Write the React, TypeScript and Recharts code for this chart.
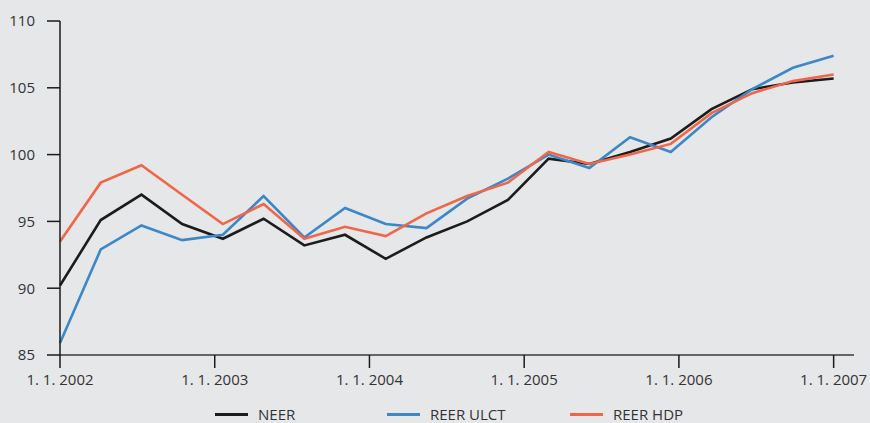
import React from 'react';
import { LineChart, Line, XAxis, YAxis, Legend } from 'recharts';

// 20 quarterly observations spread over 1.1.2002 – 1.1.2007
const quarters = [
  'Q1 02', 'Q2 02', 'Q3 02', 'Q4 02',
  'Q1 03', 'Q2 03', 'Q3 03', 'Q4 03',
  'Q1 04', 'Q2 04', 'Q3 04', 'Q4 04',
  'Q1 05', 'Q2 05', 'Q3 05', 'Q4 05',
  'Q1 06', 'Q2 06', 'Q3 06', 'Q4 06',
];

const neer = [
  90.2, 95.1, 97.0, 94.8, 93.7, 95.2, 93.2, 94.0, 92.2, 93.8,
  95.0, 96.6, 99.7, 99.3, 100.2, 101.2, 103.4, 104.9, 105.4, 105.7,
];

const reerUlct = [
  85.9, 92.9, 94.7, 93.6, 94.0, 96.9, 93.8, 96.0, 94.8, 94.5,
  96.7, 98.2, 100.0, 99.0, 101.3, 100.2, 102.8, 104.9, 106.5, 107.4,
];

const reerHdp = [
  93.5, 97.9, 99.2, 97.0, 94.8, 96.3, 93.7, 94.6, 93.9, 95.6,
  96.9, 97.9, 100.2, 99.3, 100.0, 100.8, 103.1, 104.6, 105.5, 106.0,
];

const yearTicks = [2002, 2003, 2004, 2005, 2006, 2007];
const yTicks = [85, 90, 95, 100, 105, 110];

const seriesInfo = [
  { key: 'neer', name: 'NEER', color: '#1c1c1c' },
  { key: 'ulct', name: 'REER ULCT', color: '#3c87c7' },
  { key: 'hdp', name: 'REER HDP', color: '#ef6648' },
];

const data = quarters.map((q, i) => ({
  q,
  t: 2002 + (i * 5) / (quarters.length - 1),
  neer: neer[i],
  ulct: reerUlct[i],
  hdp: reerHdp[i],
}));

const FONT = '"Open Sans", "Noto Sans", sans-serif';

const itemWidths = [172, 183, 120];

const CustomLegend = () => (
  <div style={{ display: 'flex', paddingLeft: 215, paddingTop: 9, lineHeight: '20px', fontFamily: FONT, fontSize: 15, color: '#333' }}>
    {seriesInfo.map((s, i) => (
      <div key={s.key} style={{ display: 'flex', alignItems: 'center', width: itemWidths[i] }}>
        <span style={{ display: 'inline-block', width: 33, height: 3, background: s.color, marginRight: 10 }} />
        <span>{s.name}</span>
      </div>
    ))}
  </div>
);

const App: React.FC = () => {
  return (
    <div style={{ position: 'absolute', left: 0, top: 0, width: 870, height: 423, background: '#e6e7e9' }}>
      <LineChart width={870} height={423} data={data} margin={{ top: 21, right: 16, left: 0, bottom: 0 }}>
        <XAxis
          type="number"
          dataKey="t"
          domain={[2002, 2007 + 0.5 * 5 / 19]}
          ticks={yearTicks}
          tickFormatter={v => `1. 1. ${v}`}
          axisLine={{ stroke: '#3a3a3a', strokeWidth: 1.5 }}
          tickLine={{ stroke: '#1a1a1a', strokeWidth: 1.5 }}
          tickSize={13}
          tickMargin={6}
          height={40}
          tick={{ fill: '#333', fontSize: 15, fontFamily: FONT }}
        />
        <YAxis
          domain={[85, 110]}
          ticks={yTicks}
          width={60}
          axisLine={{ stroke: '#1a1a1a', strokeWidth: 1.5 }}
          tickLine={{ stroke: '#1a1a1a', strokeWidth: 1.5 }}
          tickSize={13}
          tickMargin={12}
          tick={{ fill: '#333', fontSize: 15, fontFamily: FONT }}
        />
        <Legend verticalAlign="bottom" height={28} content={<CustomLegend />} />
        {seriesInfo.map(s => (
          <Line
            key={s.key}
            type="linear"
            dataKey={s.key}
            name={s.name}
            stroke={s.color}
            strokeWidth={2.6}
            dot={false}
            isAnimationActive={false}
          />
        ))}
      </LineChart>
    </div>
  );
};

export default App;
